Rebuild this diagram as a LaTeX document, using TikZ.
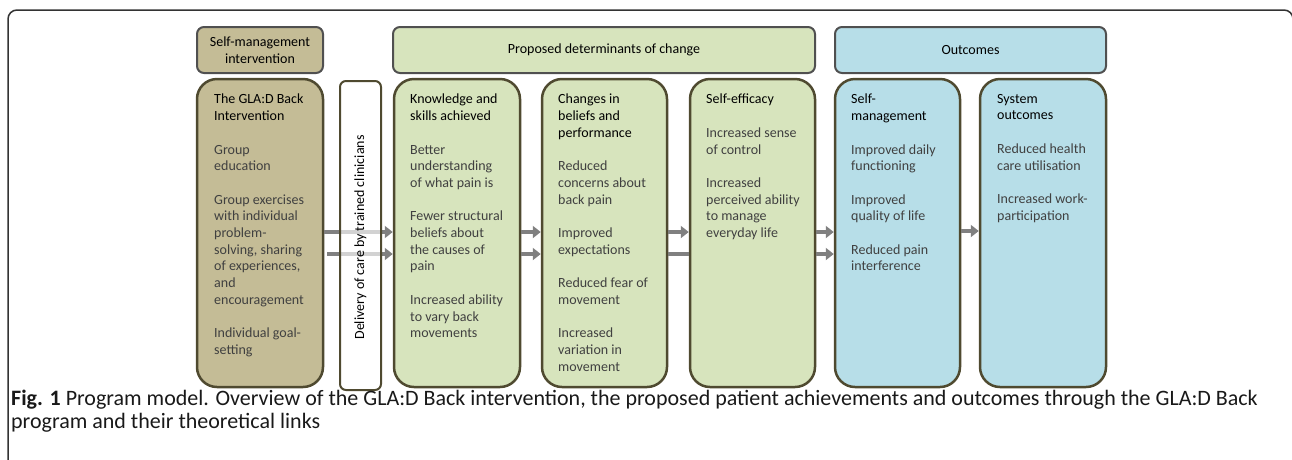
\documentclass[tikz,border=0pt]{standalone}
\usepackage{fontspec}
\setmainfont{Carlito}
\newfontfamily\capfont[FakeStretch=1.0]{Carlito}
\usetikzlibrary{arrows.meta}
\definecolor{tanfill}{HTML}{C4BC96}
\definecolor{greenfill}{HTML}{D7E4BD}
\definecolor{bluefill}{HTML}{B7DEE8}
\definecolor{boxline}{HTML}{4F4A30}
\definecolor{hdrline}{HTML}{505050}
\definecolor{arrowgray}{HTML}{808080}
\definecolor{bodytext}{HTML}{404040}
\begin{document}
\begin{tikzpicture}[x=1pt,y=-1pt,
  hdr/.style={draw=hdrline, line width=2pt, rounded corners=7pt, font=\fontsize{14}{16.7}\selectfont, align=center, inner sep=0, minimum height=46pt, text=black},
  col/.style={draw=boxline, line width=2.5pt, rounded corners=20pt, inner sep=0, minimum height=308pt},
  txt/.style={anchor=north west, inner sep=0, align=left, font=\fontsize{14}{16.7}\selectfont, text=bodytext},
  flow/.style={draw=arrowgray, line width=4.5pt, -{Triangle[length=8pt,width=12pt]}},
  plainflow/.style={draw=arrowgray, line width=4.5pt},
  captext/.style={anchor=base west, inner sep=0, font=\capfont\fontsize{22}{23}\selectfont, text=black!90}
]
\useasboundingbox (0,0) rectangle (1292,459);
% outer frame
\draw[line width=1.5pt, draw=black!80, rounded corners=9pt] (8,480) -- (8,10) -- (1293,10) -- (1293,480);
% rows
\coordinate (r1) at (0,232);
\coordinate (r2) at (0,254);
% headers
\node[hdr, fill=tanfill, minimum width=126pt] (hsm) at (260,50) {Self-management\\intervention};
\node[hdr, fill=greenfill, minimum width=422pt] (hpd) at (604,50) {Proposed determinants of change};
\node[hdr, fill=bluefill, minimum width=271pt] (hout) at (970.5,50) {Outcomes};
% columns
\node[col, fill=tanfill, minimum width=126pt] (gla) at (260,233) {};
\node[col, fill=greenfill, minimum width=126pt] (know) at (457,233) {};
\node[col, fill=greenfill, minimum width=125pt] (chg) at (604.5,233) {};
\node[col, fill=greenfill, minimum width=125pt] (eff) at (752.5,233) {};
\node[col, fill=bluefill, minimum width=125pt] (smg) at (897.5,233) {};
\node[col, fill=bluefill, minimum width=126pt] (sys) at (1043,233) {};
% arrows
\draw[flow] (gla.east |- r1) -- (know.west |- r1);
\draw[flow, shorten <=3pt] (gla.east |- r2) -- (know.west |- r2);
\draw[flow] (know.east |- r1) -- (chg.west |- r1);
\draw[flow] (know.east |- r2) -- (chg.west |- r2);
\draw[flow] (chg.east |- r1) -- (eff.west |- r1);
\draw[plainflow] (chg.east |- r2) -- (eff.west |- r2);
\draw[flow] (eff.east |- r1) -- (smg.west |- r1);
\draw[flow] (eff.east |- r2) -- (smg.west |- r2);
\draw[flow] ([yshift=1pt]smg.east |- r1) -- ([yshift=1pt]sys.west |- r1);
% delivery box
\node[draw=boxline, line width=2pt, rounded corners=6pt, fill=white, fill opacity=0.65, text opacity=1, minimum width=41pt, minimum height=309pt, inner sep=0] (deliv) at (360.5,235.5) {};
\node[rotate=90, inner sep=0, font=\fontsize{14}{16}\selectfont, text=black] (dtext) at ([yshift=-2pt]deliv.center) {Delivery of care by trained clinicians};
% column texts
\node[txt] (tgla) at (214,94) {{\color{black}The GLA:D Back}\\{\color{black}Intervention}\\[16.7pt]Group\\education\\[16.7pt]Group exercises\\with individual\\problem-\\solving, sharing\\of experiences,\\and\\encouragement\\[16.7pt]Individual goal-\\setting};
\node[txt] (tknow) at (410,94) {{\color{black}Knowledge and}\\{\color{black}skills achieved}\\[16.7pt]Better\\understanding\\of what pain is\\[16.7pt]Fewer structural\\beliefs about\\the causes of\\pain\\[16.7pt]Increased ability\\to vary back\\movements};
\node[txt] (tchg) at (558,94) {{\color{black}Changes in}\\{\color{black}beliefs and}\\{\color{black}performance}\\[16.7pt]Reduced\\concerns about\\back pain\\[16.7pt]Improved\\expectations\\[16.7pt]Reduced fear of\\movement\\[16.7pt]Increased\\variation in\\movement};
\node[txt] (teff) at (706,94) {{\color{black}Self-efficacy}\\[16.7pt]Increased sense\\of control\\[16.7pt]Increased\\perceived ability\\to manage\\everyday life};
\node[txt] (tsmg) at (851,94) {{\color{black}Self-}\\{\color{black}management}\\[16.7pt]Improved daily\\functioning\\[16.7pt]Improved\\quality of life\\[16.7pt]Reduced pain\\interference};
\node[txt] (tsys) at (997,94) {{\color{black}System}\\{\color{black}outcomes}\\[16.7pt]Reduced health\\care utilisation\\[16.7pt]Increased work-\\participation};
% caption
\node[captext] (cap1) at (11,405) {\textbf{Fig. 1} Program model. Overview of the GLA:D Back intervention, the proposed patient achievements and outcomes through the GLA:D Back};
\node[captext] (cap2) at (11,428) {program and their theoretical links};
\end{tikzpicture}
\end{document}
